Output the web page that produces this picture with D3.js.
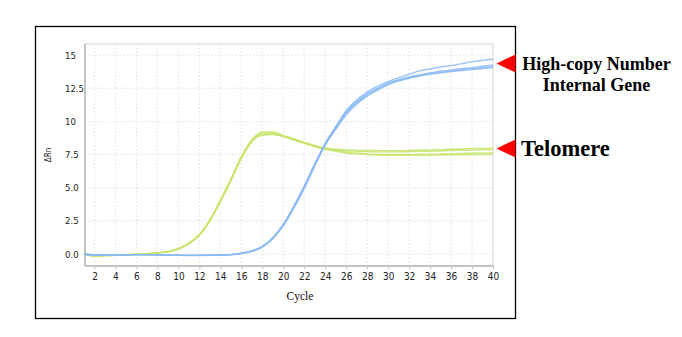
<!DOCTYPE html>
<html>
<head>
<meta charset="utf-8">
<script src="https://cdn.jsdelivr.net/npm/d3@7"></script>
<style>
  html, body { margin: 0; padding: 0; background: #fff; }
  svg { display: block; }
</style>
</head>
<body>
<svg id="chart" width="682" height="337"></svg>
<script>
// Amplification cycles 1..40
const cycles = d3.range(1, 41);

// ΔRn readings: high-copy number internal gene replicates
const geneA = [0.00,-0.06,-0.06,-0.05,-0.05,-0.04,-0.04,-0.05,-0.07,-0.09,-0.10,-0.10,-0.09,-0.07,-0.04,0.06,0.24,0.58,1.24,2.24,3.62,5.12,6.80,8.35,9.60,10.80,11.60,12.20,12.65,13.00,13.30,13.55,13.80,13.95,14.10,14.20,14.35,14.50,14.60,14.68];
const geneB = [0.00,-0.07,-0.06,-0.06,-0.05,-0.04,-0.04,-0.05,-0.07,-0.09,-0.10,-0.10,-0.09,-0.07,-0.04,0.05,0.22,0.55,1.20,2.20,3.55,5.05,6.75,8.30,9.50,10.70,11.50,12.10,12.50,12.90,13.15,13.35,13.50,13.65,13.78,13.88,13.97,14.05,14.15,14.24];
const geneC = [0.00,-0.08,-0.07,-0.06,-0.05,-0.05,-0.05,-0.06,-0.08,-0.10,-0.11,-0.11,-0.10,-0.08,-0.05,0.04,0.20,0.52,1.15,2.12,3.45,4.95,6.62,8.20,9.40,10.50,11.30,11.90,12.35,12.75,13.05,13.25,13.42,13.55,13.65,13.75,13.83,13.90,13.98,14.05];
const geneD = [0.00,-0.07,-0.06,-0.06,-0.05,-0.04,-0.05,-0.05,-0.07,-0.09,-0.10,-0.10,-0.09,-0.07,-0.04,0.05,0.21,0.54,1.18,2.16,3.50,5.00,6.70,8.25,9.45,10.60,11.40,12.00,12.45,12.80,13.10,13.30,13.45,13.60,13.70,13.80,13.90,13.97,14.05,14.12];

// ΔRn readings: telomere replicates
const teloA = [0.00,-0.14,-0.11,-0.09,-0.05,-0.01,0.03,0.09,0.19,0.42,0.82,1.48,2.58,4.05,5.65,7.35,8.60,9.20,9.20,8.95,8.70,8.42,8.18,8.00,7.90,7.85,7.82,7.80,7.80,7.78,7.78,7.80,7.82,7.85,7.87,7.90,7.92,7.95,7.96,7.97];
const teloB = [0.00,-0.15,-0.12,-0.10,-0.06,-0.02,0.02,0.08,0.18,0.40,0.80,1.45,2.55,4.00,5.60,7.30,8.55,9.10,9.10,8.90,8.65,8.40,8.15,7.95,7.85,7.78,7.75,7.72,7.70,7.70,7.70,7.72,7.74,7.75,7.77,7.80,7.82,7.83,7.85,7.87];
const teloC = [0.00,-0.16,-0.12,-0.10,-0.07,-0.03,0.01,0.07,0.17,0.38,0.77,1.40,2.48,3.92,5.52,7.20,8.45,8.95,9.00,8.85,8.60,8.35,8.10,7.90,7.75,7.62,7.55,7.50,7.47,7.45,7.45,7.45,7.45,7.45,7.46,7.47,7.48,7.50,7.50,7.52];
const teloD = [0.00,-0.15,-0.12,-0.09,-0.06,-0.02,0.02,0.08,0.18,0.39,0.79,1.43,2.52,3.96,5.56,7.25,8.50,9.00,9.05,8.88,8.62,8.38,8.12,7.92,7.80,7.68,7.60,7.55,7.52,7.50,7.50,7.50,7.52,7.53,7.55,7.57,7.58,7.60,7.62,7.63];

const geneSeries = [geneA, geneB, geneC, geneD];
const teloSeries = [teloA, teloB, teloC, teloD];

// Axis ticks
const xTicks = d3.range(2, 41, 2);
const yTicks = [0, 2.5, 5, 7.5, 10, 12.5, 15];
const yTickLabels = ["0.0", "2.5", "5.0", "7.5", "10", "12.5", "15"];

// Side annotations
const geneLabel = ["High-copy Number", "Internal Gene"];
const teloLabel = "Telomere";

const svg = d3.select("#chart");

// Outer frame
svg.append("rect")
  .attr("x", 35.5).attr("y", 26.5)
  .attr("width", 480).attr("height", 292)
  .attr("fill", "none").attr("stroke", "#000").attr("stroke-width", 1.3);

const plot = { left: 85, right: 493, top: 44, bottom: 266 };

const x = d3.scaleLinear().domain([1, 40]).range([84, 493]);
const y = d3.scaleLinear().domain([-0.9, 15.83]).range([plot.bottom, plot.top]);

// Plot area border (top / right)
svg.append("path")
  .attr("d", `M${plot.left},${plot.top}H${plot.right}V${plot.bottom}`)
  .attr("fill", "none").attr("stroke", "#e2e2e2").attr("stroke-width", 1.5);

// Grid
const grid = svg.append("g").attr("stroke", "#e3e3e3").attr("stroke-width", 1)
  .attr("stroke-dasharray", "1.5,2");
grid.selectAll("line.v").data(xTicks).join("line")
  .attr("class", "v")
  .attr("x1", d => x(d)).attr("x2", d => x(d))
  .attr("y1", plot.top).attr("y2", plot.bottom);
grid.selectAll("line.h").data(yTicks).join("line")
  .attr("class", "h")
  .attr("x1", plot.left).attr("x2", plot.right)
  .attr("y1", d => y(d)).attr("y2", d => y(d));

// Bottom axis
const xAxis = d3.axisBottom(x).tickValues(xTicks).tickSize(3).tickPadding(4)
  .tickFormat(d3.format("d"));
const gx = svg.append("g").attr("transform", `translate(0,${plot.bottom})`).call(xAxis);
gx.select(".domain").attr("d", `M${plot.left},0H${plot.right}`)
  .attr("stroke", "#c4c4c4").attr("stroke-width", 2);
gx.selectAll(".tick line").attr("stroke", "#bdbdbd");
gx.selectAll(".tick text")
  .attr("font-family", "'DejaVu Sans Condensed', 'DejaVu Sans', sans-serif")
  .attr("font-size", 10).attr("fill", "#222");

// Left axis (labels left-aligned)
const yAxis = d3.axisLeft(y).tickValues(yTicks).tickSize(0)
  .tickFormat((d, i) => yTickLabels[i]);
const gy = svg.append("g").attr("transform", `translate(${plot.left},0)`).call(yAxis);
gy.select(".domain").attr("d", `M0,${plot.top}V${plot.bottom}`)
  .attr("stroke", "#c4c4c4").attr("stroke-width", 2);
gy.selectAll(".tick text")
  .attr("text-anchor", "start").attr("x", -20)
  .attr("font-family", "'DejaVu Sans Condensed', 'DejaVu Sans', sans-serif")
  .attr("font-size", 9.5).attr("fill", "#222");

// Axis titles
svg.append("text")
  .attr("x", 300).attr("y", 300)
  .attr("text-anchor", "middle")
  .attr("font-family", "'Liberation Serif', 'Times New Roman', serif")
  .attr("font-size", 11.5).attr("fill", "#111")
  .text("Cycle");
svg.append("text")
  .attr("transform", "translate(51,155) rotate(-90)")
  .attr("text-anchor", "middle")
  .attr("font-family", "'DejaVu Sans Condensed', 'DejaVu Sans', sans-serif")
  .attr("font-size", 8).attr("fill", "#222")
  .text("ΔRn");

// Amplification curves
const line = d3.line()
  .x((d, i) => x(cycles[i]))
  .y(d => y(d))
  .curve(d3.curveMonotoneX);

const curves = svg.append("g").attr("fill", "none").attr("stroke-width", 1.4)
  .attr("stroke-linejoin", "round");
curves.selectAll("path.telo").data(teloSeries).join("path")
  .attr("class", "telo")
  .attr("d", line)
  .attr("stroke", "#c8e46a").attr("stroke-opacity", 0.85);
curves.selectAll("path.gene").data(geneSeries).join("path")
  .attr("class", "gene")
  .attr("d", line)
  .attr("stroke", "#8abaf4").attr("stroke-opacity", 0.85);

// Pointers and labels on the right
const tri = (tipX, tipY) => `M${tipX},${tipY}L${tipX + 19},${tipY - 9}L${tipX + 19},${tipY + 9}Z`;
svg.append("path").attr("d", tri(496.5, 63.5)).attr("fill", "#ff0000");
svg.append("path").attr("d", tri(496.5, 148.5)).attr("fill", "#ff0000");

svg.append("text")
  .attr("x", 596.5).attr("y", 69.5)
  .attr("text-anchor", "middle")
  .attr("font-family", "'Liberation Serif', 'Times New Roman', serif")
  .attr("font-weight", "bold").attr("font-size", 18).attr("fill", "#000")
  .selectAll("tspan").data(geneLabel).join("tspan")
  .attr("x", 596.5).attr("dy", (d, i) => i === 0 ? 0 : 21)
  .text(d => d);

svg.append("text")
  .attr("x", 521).attr("y", 156)
  .attr("font-family", "'Liberation Serif', 'Times New Roman', serif")
  .attr("font-weight", "bold").attr("font-size", 22.5).attr("fill", "#000")
  .text(teloLabel);
</script>
</body>
</html>
